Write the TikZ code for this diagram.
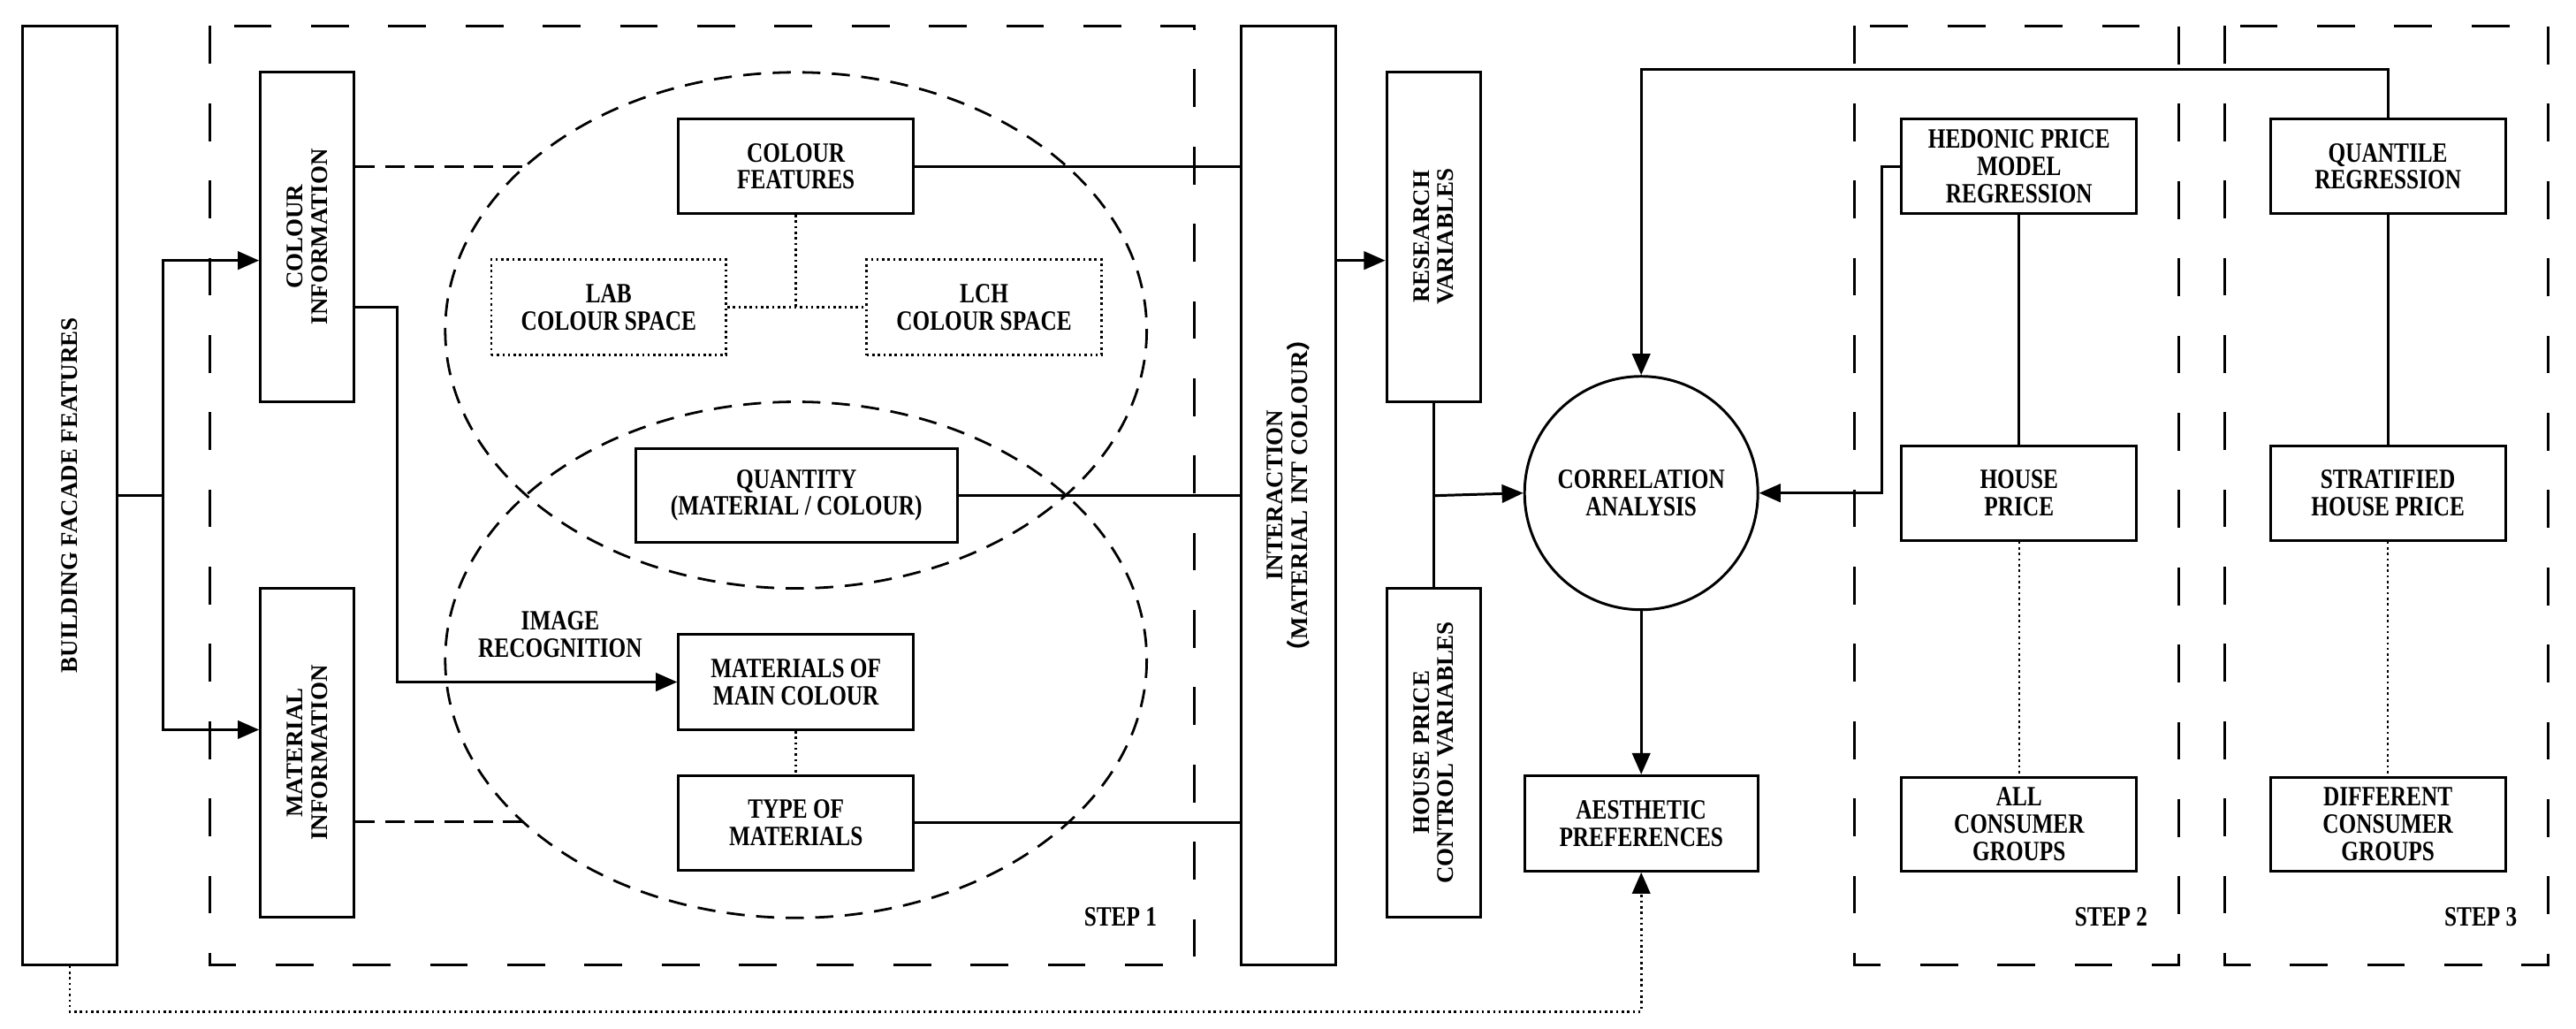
\documentclass[tikz,border=0pt]{standalone}
\usepackage{fontspec}
\setmainfont{Liberation Serif}
\newfontfamily\cond{Liberation Serif}[FakeStretch=0.8]
\newfontfamily\cjkf{Noto Sans CJK SC}
\usetikzlibrary{arrows.meta,shapes.geometric}
\begin{document}
\begin{tikzpicture}[x=1pt,y=-1pt,
  box/.style={draw,line width=1.6pt,inner sep=0pt},
  dbox/.style={draw,line width=1.4pt,dotted,inner sep=0pt},
  txt/.style={font=\cond\bfseries\fontsize{17}{16.5}\selectfont,align=center},
  rtxt/.style={font=\bfseries\fontsize{14.5}{14.8}\selectfont,align=center,rotate=90},
  stepbox/.style={draw,line width=1.6pt,dash pattern=on 23pt off 24pt},
  ell/.style={draw,line width=1.5pt,dash pattern=on 11pt off 7pt},
  ln/.style={line width=1.6pt},
  dl/.style={line width=1.5pt,dash pattern=on 12pt off 6pt},
  dt/.style={line width=1.4pt,dotted},
  arr/.style={ln,-{Triangle[length=13pt,width=11pt]}},
  darr/.style={dt,-{Triangle[length=13pt,width=11pt]}}]
\useasboundingbox (0,0) rectangle (1568,626);
% step frames
\draw[stepbox] (128,15.8) rectangle (727,587);
\draw[stepbox] (1129,15.8) rectangle (1326,587);
\draw[stepbox] (1354,15.8) rectangle (1551,587);
\node[txt] (s1) at (682,558) {STEP 1};
\node[txt] (s2) at (1285,558) {STEP 2};
\node[txt] (s3) at (1510,558) {STEP 3};
% ellipses
\draw[ell] (484.5,201) ellipse [x radius=213.5, y radius=157];
\draw[ell] (484.5,401.5) ellipse [x radius=213.5, y radius=157];
% vertical boxes
\node[box,minimum width=57.3pt,minimum height=571pt] (fac) at (42.4,301.4) {};
\node[rtxt] at (fac) {BUILDING FACADE FEATURES};
\node[box,minimum width=57pt,minimum height=200.7pt] (ci) at (187,144) {};
\node[rtxt] at (ci) {COLOUR\\INFORMATION};
\node[box,minimum width=57pt,minimum height=200pt] (mi) at (187,458) {};
\node[rtxt] at (mi) {MATERIAL\\INFORMATION};
\node[box,minimum width=57.4pt,minimum height=571pt] (inter) at (784.3,301.4) {};
\node[rtxt] at (inter) {INTERACTION\\{\cjkf （}MATERIAL INT COLOUR{\cjkf ）}};
\node[box,minimum width=57.4pt,minimum height=200.7pt] (rv) at (872.7,144) {};
\node[rtxt] at (rv) {RESEARCH\\VARIABLES};
\node[box,minimum width=57pt,minimum height=200pt] (hp) at (872.7,458) {};
\node[rtxt] at (hp) {HOUSE PRICE\\CONTROL VARIABLES};
% horizontal boxes
\node[box,txt,minimum width=143pt,minimum height=57.5pt] (cf) at (484.5,101.25) {COLOUR\\FEATURES};
\node[dbox,txt,minimum width=143pt,minimum height=58pt] (lab) at (370.5,187) {LAB\\COLOUR SPACE};
\node[dbox,txt,minimum width=143pt,minimum height=58pt] (lch) at (599,187) {LCH\\COLOUR SPACE};
\node[box,txt,minimum width=196pt,minimum height=57pt] (qt) at (484.8,301.4) {QUANTITY\\(MATERIAL / COLOUR)};
\node[box,txt,minimum width=143pt,minimum height=58pt] (mm) at (484.5,415) {MATERIALS OF\\MAIN COLOUR};
\node[box,txt,minimum width=143pt,minimum height=57.5pt] (tm) at (484.5,500.7) {TYPE OF\\MATERIALS};
\node[txt] (ir) at (341,386) {IMAGE\\RECOGNITION};
\node[draw,circle,line width=1.6pt,minimum size=142pt,inner sep=0pt,txt] (ca) at (999,300) {CORRELATION\\ANALYSIS};
\node[box,txt,minimum width=142pt,minimum height=58pt] (ap) at (999,501) {AESTHETIC\\PREFERENCES};
\node[box,txt,minimum width=143pt,minimum height=57.5pt] (hd) at (1229,101.25) {HEDONIC PRICE\\MODEL\\REGRESSION};
\node[box,txt,minimum width=143pt,minimum height=57.6pt] (hpr) at (1229,300) {HOUSE\\PRICE};
\node[box,txt,minimum width=143pt,minimum height=57pt] (ac) at (1229,501.5) {ALL\\CONSUMER\\GROUPS};
\node[box,txt,minimum width=143pt,minimum height=57.5pt] (qr) at (1453.5,101.25) {QUANTILE\\REGRESSION};
\node[box,txt,minimum width=143pt,minimum height=57.6pt] (sh) at (1453.5,300) {STRATIFIED\\HOUSE PRICE};
\node[box,txt,minimum width=143pt,minimum height=57pt] (dc) at (1453.5,501.5) {DIFFERENT\\CONSUMER\\GROUPS};
% connectors
\coordinate (j1) at (99.5,301.6);
\draw[ln] (fac.east |- j1) -- (j1);
\draw[arr] (j1) |- (ci.west |- 0,158.5);
\draw[arr] (j1) |- (mi.west |- 0,444);
\draw[arr] (ci.east |- 0,187) -- (242,187) |- (mm.west);
\coordinate (e1) at (318,101.5);
\coordinate (e2) at (318,500);
\draw[dl] (ci.east |- e1) -- (e1);
\draw[dl] (mi.east |- e2) -- (e2);
\draw[ln] (cf.east) -- (inter.west |- cf.east);
\draw[ln] (qt.east) -- (inter.west |- qt.east);
\draw[ln] (tm.east) -- (inter.west |- tm.east);
\draw[dt] (cf.south) -- (cf.south |- lab.east);
\draw[dt] (lab.east) -- (lch.west);
\draw[dt] (mm.south) -- (tm.north);
\draw[arr] (inter.east |- 0,158.5) -- (rv.west |- 0,158.5);
\draw[ln] (rv.south) -- (hp.north);
\draw[arr] (872.7,301.6) -- (ca.west);
\draw[arr] (ca.south) -- (ap.north);
\draw[arr] (qr.north) -- (1453.5,42.2) -| (ca.north);
\draw[arr] (hd.west) -- (1145.6,101.25) |- (ca.east);
\draw[ln] (hd.south) -- (hpr.north);
\draw[ln] (qr.south) -- (sh.north);
\draw[dt] (hpr.south) -- (ac.north);
\draw[dt] (sh.south) -- (dc.north);
\draw[darr] (fac.south) -- (42.4,615.5) -| (ap.south);
\end{tikzpicture}
\end{document}
